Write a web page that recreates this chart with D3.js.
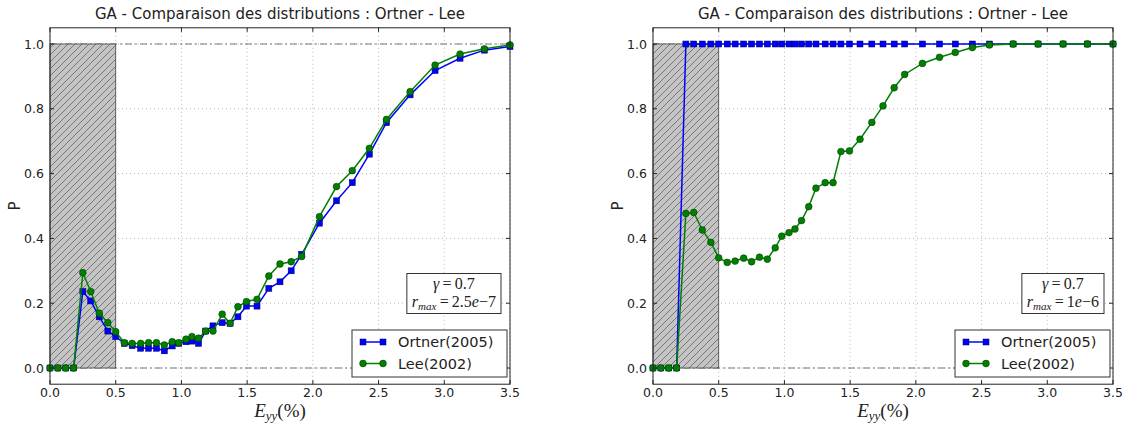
<!DOCTYPE html>
<html>
<head>
<meta charset="utf-8">
<script src="https://cdn.jsdelivr.net/npm/d3@7"></script>
<style>
  body { margin: 0; background: #fff; }
  svg { display: block; }
  text { font-family: "DejaVu Sans", sans-serif; fill: #222; }
  .math { font-family: "Liberation Serif", "DejaVu Serif", serif; }
</style>
</head>
<body>
<script>
// strain values (%) where both distributions are evaluated
var strain = [0.0, 0.06, 0.12, 0.18, 0.25, 0.31, 0.375, 0.44, 0.5, 0.565, 0.625, 0.69, 0.75, 0.81,
  0.87, 0.93, 0.98, 1.035, 1.08, 1.13, 1.185, 1.24, 1.31, 1.37, 1.43, 1.495, 1.575, 1.665, 1.75,
  1.835, 1.915, 2.05, 2.18, 2.30, 2.43, 2.56, 2.74, 2.93, 3.12, 3.305, 3.5];

// left panel, r_max = 2.5e-7
var ortnerA = [0, 0, 0, 0, 0.236, 0.207, 0.158, 0.114, 0.097, 0.076, 0.069, 0.061, 0.061, 0.061,
  0.053, 0.068, 0.076, 0.081, 0.083, 0.076, 0.114, 0.130, 0.140, 0.138, 0.158, 0.191, 0.191, 0.246,
  0.266, 0.300, 0.351, 0.447, 0.516, 0.572, 0.660, 0.757, 0.843, 0.918, 0.956, 0.981, 0.992];
var leeA = [0, 0, 0, 0, 0.294, 0.236, 0.169, 0.140, 0.112, 0.078, 0.076, 0.076, 0.078, 0.078,
  0.071, 0.081, 0.078, 0.089, 0.097, 0.092, 0.114, 0.114, 0.166, 0.138, 0.189, 0.205, 0.212, 0.284,
  0.321, 0.328, 0.344, 0.467, 0.560, 0.609, 0.678, 0.767, 0.853, 0.935, 0.969, 0.985, 0.997];

// right panel, r_max = 1e-6
var ortnerB = [0, 0, 0, 0, 1, 1, 1, 1, 1, 1, 1, 1, 1, 1, 1, 1, 1, 1, 1, 1, 1, 1, 1, 1, 1, 1, 1, 1,
  1, 1, 1, 1, 1, 1, 1, 1, 1, 1, 1, 1, 1];
var leeB = [0, 0, 0, 0, 0.477, 0.480, 0.426, 0.388, 0.340, 0.326, 0.330, 0.339, 0.328, 0.342,
  0.336, 0.371, 0.407, 0.418, 0.429, 0.455, 0.498, 0.555, 0.572, 0.572, 0.668, 0.670, 0.706, 0.758,
  0.809, 0.865, 0.906, 0.940, 0.959, 0.974, 0.989, 0.997, 1, 1, 1, 1, 1];

var xTicks = [0, 0.5, 1.0, 1.5, 2.0, 2.5, 3.0, 3.5];
var yTicks = [0, 0.2, 0.4, 0.6, 0.8, 1.0];
var seriesNames = ["Ortner(2005)", "Lee(2002)"];
var seriesColors = ["#0000ff", "#008000"];
var titleText = "GA - Comparaison des distributions : Ortner - Lee";
var rmaxLabels = ["2.5", "1"];
var rmaxExp = ["\u22127", "\u22126"];

var W = 1123, H = 425;
var svg = d3.select("body").append("svg").attr("width", W).attr("height", H);

var defs = svg.append("defs");
var pat = defs.append("pattern").attr("id", "hatch")
  .attr("patternUnits", "userSpaceOnUse").attr("width", 7).attr("height", 7);
pat.append("rect").attr("width", 7).attr("height", 7).attr("fill", "#c4c4c4");
pat.append("path").attr("d", "M-1,1 l2,-2 M0,7 l7,-7 M6,8 l2,-2")
  .attr("stroke", "#6e6e6e").attr("stroke-width", 0.9);

function drawPanel(left, ortner, lee, k) {
  var x0 = left, x1 = left + 460;
  var x = d3.scaleLinear().domain([0, 3.5]).range([x0, x1]);
  var y = d3.scaleLinear().domain([-0.05, 1.05]).range([384.2, 27.8]);
  var g = svg.append("g");

  // grid
  g.selectAll(".gx").data(xTicks).enter().append("line")
    .attr("x1", function(d) { return x(d); }).attr("x2", function(d) { return x(d); })
    .attr("y1", y(1.05)).attr("y2", y(-0.05))
    .attr("stroke", "#9a9a9a").attr("stroke-width", 0.7).attr("stroke-dasharray", "1,3");
  g.selectAll(".gy").data(yTicks).enter().append("line")
    .attr("y1", function(d) { return y(d); }).attr("y2", function(d) { return y(d); })
    .attr("x1", x0).attr("x2", x1)
    .attr("stroke", "#9a9a9a").attr("stroke-width", 0.7).attr("stroke-dasharray", "1,3");

  // dash-dot reference lines at 0 and 1
  g.selectAll(".ref").data([0, 1]).enter().append("line")
    .attr("y1", function(d) { return y(d); }).attr("y2", function(d) { return y(d); })
    .attr("x1", x0).attr("x2", x1)
    .attr("stroke", "#777").attr("stroke-width", 1).attr("stroke-dasharray", "7,3,2,3");

  // hatched zone
  g.append("rect")
    .attr("x", x(0)).attr("y", y(1)).attr("width", x(0.5) - x(0)).attr("height", y(0) - y(1))
    .attr("fill", "url(#hatch)").attr("stroke", "#444").attr("stroke-width", 0.8);

  var line = d3.line().x(function(d) { return x(d[0]); }).y(function(d) { return y(d[1]); });
  var sets = [ortner, lee];
  sets.forEach(function(vals, i) {
    var pts = strain.map(function(s, j) { return [s, vals[j]]; });
    g.append("path").datum(pts).attr("d", line).attr("fill", "none")
      .attr("stroke", seriesColors[i]).attr("stroke-width", 1.5);
    if (i === 0) {
      g.selectAll(".sq" + k).data(pts).enter().append("rect")
        .attr("x", function(d) { return x(d[0]) - 3; }).attr("y", function(d) { return y(d[1]) - 3; })
        .attr("width", 6).attr("height", 6)
        .attr("fill", seriesColors[i]).attr("stroke", "#000050").attr("stroke-width", 0.5);
    } else {
      g.selectAll(".ci" + k).data(pts).enter().append("circle")
        .attr("cx", function(d) { return x(d[0]); }).attr("cy", function(d) { return y(d[1]); })
        .attr("r", 3.4)
        .attr("fill", seriesColors[i]).attr("stroke", "#003000").attr("stroke-width", 0.5);
    }
  });

  // frame
  g.append("rect").attr("x", x0).attr("y", y(1.05)).attr("width", x1 - x0).attr("height", y(-0.05) - y(1.05))
    .attr("fill", "none").attr("stroke", "#222").attr("stroke-width", 1);

  // inward ticks on all sides
  xTicks.forEach(function(t) {
    g.append("line").attr("x1", x(t)).attr("x2", x(t)).attr("y1", y(-0.05)).attr("y2", y(-0.05) - 4).attr("stroke", "#222");
    g.append("line").attr("x1", x(t)).attr("x2", x(t)).attr("y1", y(1.05)).attr("y2", y(1.05) + 4).attr("stroke", "#222");
  });
  yTicks.forEach(function(t) {
    g.append("line").attr("y1", y(t)).attr("y2", y(t)).attr("x1", x0).attr("x2", x0 + 4).attr("stroke", "#222");
    g.append("line").attr("y1", y(t)).attr("y2", y(t)).attr("x1", x1).attr("x2", x1 - 4).attr("stroke", "#222");
  });

  g.selectAll(".xl").data(xTicks).enter().append("text")
    .attr("x", function(d) { return x(d); }).attr("y", 397)
    .attr("text-anchor", "middle").style("font-size", "12.5px")
    .text(function(d) { return d3.format(".1f")(d); });
  g.selectAll(".yl").data(yTicks).enter().append("text")
    .attr("x", x0 - 6).attr("y", function(d) { return y(d) + 4.5; })
    .attr("text-anchor", "end").style("font-size", "12.5px")
    .text(function(d) { return d3.format(".1f")(d); });

  // title and axis labels
  g.append("text").attr("x", (x0 + x1) / 2).attr("y", 19).attr("text-anchor", "middle")
    .style("font-size", "15px").text(titleText);
  g.append("text").attr("transform", "translate(" + (x0 - 30) + ",206) rotate(-90)")
    .attr("text-anchor", "middle").style("font-size", "15px").text("P");
  var xl = g.append("text").attr("class", "math").attr("x", (x0 + x1) / 2).attr("y", 417)
    .attr("text-anchor", "middle").style("font-size", "19px");
  xl.append("tspan").style("font-style", "italic").text("E");
  xl.append("tspan").style("font-style", "italic").style("font-size", "13px").attr("dy", 3).text("yy");
  xl.append("tspan").attr("dy", -3).text("(%)");

  // parameter box
  var ann = g.append("g");
  var t1 = ann.append("text").attr("class", "math").attr("text-anchor", "middle").style("font-size", "16px");
  t1.append("tspan").style("font-style", "italic").text("\u03b3");
  t1.append("tspan").text("\u2009=\u20090.7");
  var t2 = ann.append("text").attr("class", "math").attr("text-anchor", "middle").style("font-size", "16px");
  t2.append("tspan").style("font-style", "italic").text("r");
  t2.append("tspan").style("font-style", "italic").style("font-size", "11px").attr("dy", 3).text("max");
  t2.append("tspan").attr("dy", -3).text("\u2009=\u2009" + rmaxLabels[k]);
  t2.append("tspan").style("font-style", "italic").text("e");
  t2.append("tspan").text(rmaxExp[k]);
  var w = Math.max(t1.node().getComputedTextLength(), t2.node().getComputedTextLength());
  var bw = w + 10, right = x0 + 451;
  var cx = right - bw / 2;
  t1.attr("x", cx).attr("y", 289);
  t2.attr("x", cx).attr("y", 307);
  ann.insert("rect", "text").attr("x", right - bw).attr("y", 273.5).attr("width", bw).attr("height", 40)
    .attr("fill", "#fff").attr("stroke", "#333").attr("stroke-width", 1);

  // legend
  var lg = g.append("g");
  lg.append("rect").attr("x", x0 + 302).attr("y", 330).attr("width", 155).attr("height", 47)
    .attr("fill", "#fff").attr("stroke", "#333").attr("stroke-width", 1);
  seriesNames.forEach(function(name, i) {
    var ly = 342 + i * 21.5;
    lg.append("line").attr("x1", x0 + 313).attr("x2", x0 + 333).attr("y1", ly).attr("y2", ly)
      .attr("stroke", seriesColors[i]).attr("stroke-width", 1.5);
    [x0 + 313, x0 + 333].forEach(function(mx) {
      if (i === 0) {
        lg.append("rect").attr("x", mx - 3).attr("y", ly - 3).attr("width", 6).attr("height", 6)
          .attr("fill", seriesColors[i]).attr("stroke", "#000050").attr("stroke-width", 0.5);
      } else {
        lg.append("circle").attr("cx", mx).attr("cy", ly).attr("r", 3.4)
          .attr("fill", seriesColors[i]).attr("stroke", "#003000").attr("stroke-width", 0.5);
      }
    });
    lg.append("text").attr("x", x0 + 348).attr("y", ly + 5).style("font-size", "14.5px").text(name);
  });
}

drawPanel(50, ortnerA, leeA, 0);
drawPanel(653, ortnerB, leeB, 1);
</script>
</body>
</html>
